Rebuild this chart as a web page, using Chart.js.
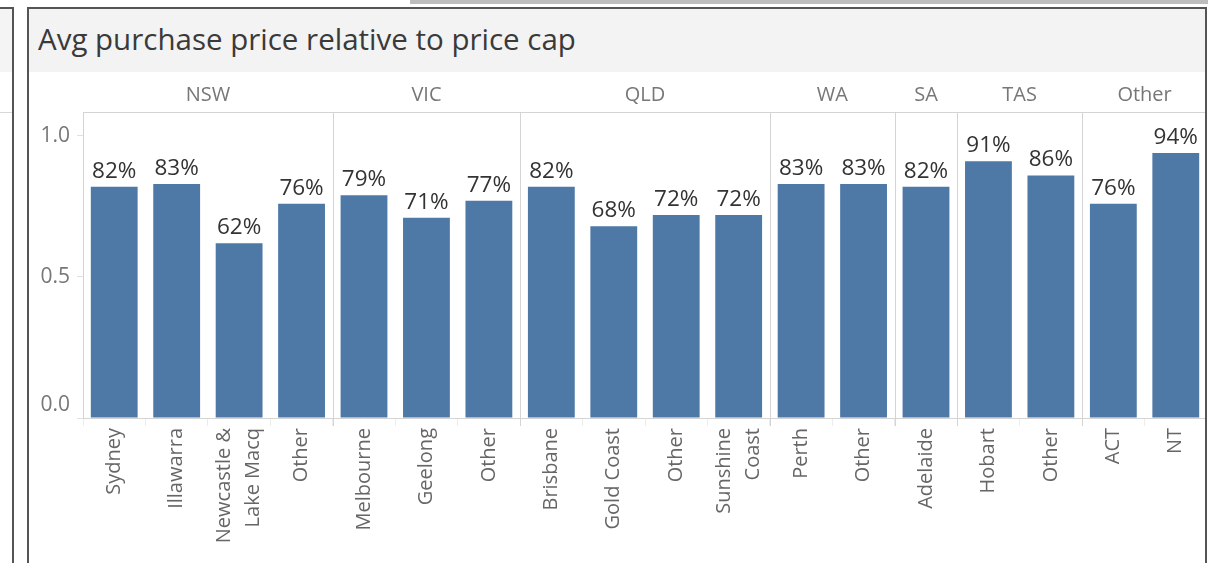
<html lang="en">
<head>
    <meta charset="UTF-8">
    <title>Avg purchase price relative to price cap</title>
    <script src="https://cdn.jsdelivr.net/npm/chart.js@4.4.1/dist/chart.umd.min.js"></script>
    <style>
        body { margin: 0; width: 1208px; height: 563px; overflow: hidden; background: #fff; font-family: "Open Sans", sans-serif; position: relative; }
        .left-panel { position: absolute; left: 0; top: 7px; width: 12px; height: 600px; border-top: 2px solid #555; border-right: 2px solid #555; }
        .left-panel .band { height: 63px; background: #f4f4f4; }
        .left-panel .line { position: absolute; left: 0; top: 103px; width: 12px; height: 1px; background: #d8d8d8; }
        .top-strip { position: absolute; left: 410px; top: 0; width: 798px; height: 4px; background: #bdbdbd; }
        .title-band { position: absolute; left: 29px; top: 9px; width: 1177px; height: 63px; background: #f3f3f3; color: #3a3a3a; font-size: 29.5px; line-height: 60px; }
        .title-band span { padding-left: 9px; }
        .panel { position: absolute; left: 27px; top: 7px; width: 1176px; height: 600px; border: 2px solid #555; pointer-events: none; z-index: 2; }
        .chart-box { position: absolute; left: 30px; top: 72px; width: 1177px; height: 491px; }
    </style>
</head>
<body>
    <div class="left-panel"><div class="band"></div><div class="line"></div></div>
    <div class="top-strip"></div>
    <div class="title-band"><span>Avg purchase price relative to price cap</span></div>
    <div class="chart-box"><canvas id="myChart"></canvas></div>
    <div class="panel"></div>

    <script>
        const categories = ['Sydney', 'Illawarra', ['Newcastle &', 'Lake Macq'], 'Other',
            'Melbourne', 'Geelong', 'Other',
            'Brisbane', 'Gold Coast', 'Other', ['Sunshine', 'Coast'],
            'Perth', 'Other',
            'Adelaide',
            'Hobart', 'Other',
            'ACT', 'NT'];
        const priceRatio = [0.82, 0.83, 0.62, 0.76,
            0.79, 0.71, 0.77,
            0.82, 0.68, 0.72, 0.72,
            0.83, 0.83,
            0.82,
            0.91, 0.86,
            0.76, 0.94];
        const groupNames = ['NSW', 'VIC', 'QLD', 'WA', 'SA', 'TAS', 'Other'];
        const groupSizes = [4, 3, 4, 2, 1, 2, 2];
        const yTicks = [0, 0.5, 1.0];

        const font = '"Open Sans", sans-serif';

        // state headers, separators and axis labels (tableau style)
        const groupPlugin = {
            id: 'groups',
            afterDraw(chart) {
                const ctx = chart.ctx;
                const area = chart.chartArea;
                const x = chart.scales.x;
                const y = chart.scales.y;
                ctx.save();
                ctx.strokeStyle = '#d4d4d4';
                ctx.lineWidth = 1;
                ctx.beginPath();
                ctx.moveTo(area.left, area.top + 0.5);
                ctx.lineTo(area.right, area.top + 0.5);
                ctx.stroke();

                ctx.fillStyle = '#777';
                ctx.font = '20px ' + font;
                ctx.textAlign = 'center';
                ctx.textBaseline = 'middle';
                let start = 0;
                groupNames.forEach((name, i) => {
                    const end = start + groupSizes[i];
                    const left = start === 0 ? area.left : (x.getPixelForValue(start - 1) + x.getPixelForValue(start)) / 2;
                    const right = end === categories.length ? area.right : (x.getPixelForValue(end - 1) + x.getPixelForValue(end)) / 2;
                    ctx.fillText(name, (left + right) / 2, area.top - 17);
                    if (end < categories.length) {
                        const lx = Math.round(right) + 0.5;
                        ctx.beginPath();
                        ctx.moveTo(lx, area.top);
                        ctx.lineTo(lx, area.bottom + 8);
                        ctx.stroke();
                    }
                    start = end;
                });

                // y labels, bottom one kept inside the axis like tableau
                ctx.fillStyle = '#777';
                ctx.font = '21px ' + font;
                ctx.textAlign = 'right';
                yTicks.forEach(v => {
                    const py = Math.min(y.getPixelForValue(v), area.bottom - 13);
                    ctx.fillText(v.toFixed(1), area.left - 13, py);
                });

                // rotated x labels, multi line ones centred on the bar
                ctx.fillStyle = '#666';
                ctx.font = '20px ' + font;
                categories.forEach((lab, i) => {
                    const lines = Array.isArray(lab) ? lab : [lab];
                    ctx.save();
                    ctx.translate(x.getPixelForValue(i), area.bottom + 10);
                    ctx.rotate(-Math.PI / 2);
                    ctx.textAlign = 'right';
                    ctx.textBaseline = 'middle';
                    lines.forEach((ln, j) => ctx.fillText(ln, 0, (j - (lines.length - 1) / 2) * 29));
                    ctx.restore();
                });
                ctx.restore();
            }
        };

        // percent labels above bars
        const valueLabels = {
            id: 'valueLabels',
            afterDatasetsDraw(chart) {
                const ctx = chart.ctx;
                const meta = chart.getDatasetMeta(0);
                ctx.save();
                ctx.fillStyle = '#333';
                ctx.font = '22.5px ' + font;
                ctx.textAlign = 'center';
                ctx.textBaseline = 'alphabetic';
                meta.data.forEach((bar, i) => {
                    ctx.fillText(Math.round(priceRatio[i] * 100) + '%', bar.x, bar.y - 9);
                });
                ctx.restore();
            }
        };

        new Chart(document.getElementById('myChart'), {
            type: 'bar',
            data: {
                labels: categories,
                datasets: [{
                    data: priceRatio,
                    backgroundColor: '#4e79a7',
                    barPercentage: 0.75,
                    categoryPercentage: 1.0
                }]
            },
            options: {
                responsive: true,
                maintainAspectRatio: false,
                animation: false,
                layout: { padding: { top: 40, right: 0, left: 0, bottom: 0 } },
                plugins: {
                    legend: { display: false },
                    tooltip: { enabled: false }
                },
                scales: {
                    x: {
                        offset: true,
                        grid: { drawOnChartArea: false, tickLength: 8, color: '#ececec', offset: true },
                        border: { color: '#d4d4d4' },
                        ticks: { display: false, autoSkip: false },
                        afterFit(scale) { scale.height = 145; }
                    },
                    y: {
                        min: 0,
                        max: 1.085,
                        afterBuildTicks(scale) { scale.ticks = yTicks.map(v => ({ value: v })); },
                        grid: { drawOnChartArea: false, tickLength: 6, color: '#e0e0e0' },
                        border: { color: '#d4d4d4' },
                        ticks: { display: false },
                        afterFit(scale) { scale.width = 53; }
                    }
                }
            },
            plugins: [groupPlugin, valueLabels]
        });
    </script>
</body>
</html>
